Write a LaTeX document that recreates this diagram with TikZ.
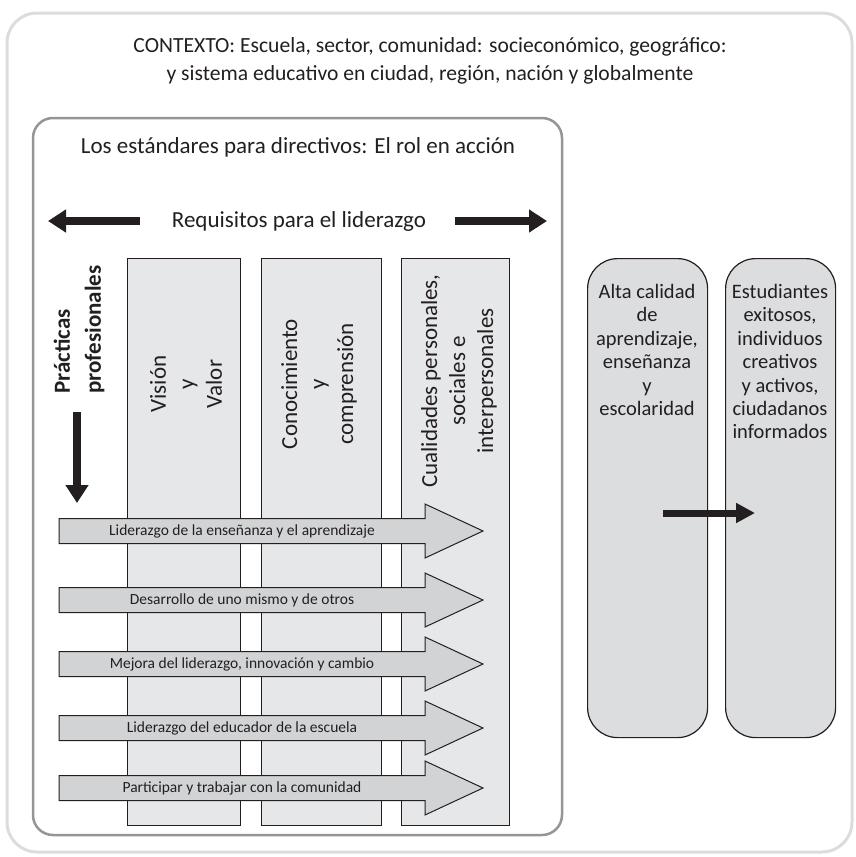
\documentclass[tikz,border=0pt]{standalone}
\usepackage{fontspec}
\setmainfont{Carlito}
\usetikzlibrary{arrows.meta}

\definecolor{ink}{HTML}{231F20}
\definecolor{framegray}{HTML}{DCDCDC}
\definecolor{boxgray}{HTML}{939598}
\definecolor{colfill}{HTML}{E6E7E8}
\definecolor{arrowfill}{HTML}{D1D3D4}
\definecolor{outfill}{HTML}{DCDDDF}

\tikzset{
  outerframe/.style={draw=framegray, line width=3pt, rounded corners=30pt},
  stdframe/.style={draw=boxgray, line width=2.5pt, rounded corners=20pt},
  column/.style={draw=ink, line width=1pt, fill=colfill, anchor=north west, inner sep=0pt},
  practice/.style={draw=ink, line width=1pt, fill=arrowfill},
  outcome/.style={draw=ink, line width=1.2pt, fill=outfill, rounded corners=30pt, anchor=north west, inner sep=0pt},
  bigtext/.style={text=ink, font=\fontsize{23}{28}\selectfont, inner sep=0pt},
  coltext/.style={text=ink, font=\fontsize{23}{28}\selectfont, rotate=90, align=center, inner sep=0pt},
  practext/.style={text=ink, font=\fontsize{15.5}{18}\selectfont, inner sep=0pt},
  outtext/.style={text=ink, font=\fontsize{20.5}{23.4}\selectfont, align=center, anchor=north, inner sep=0pt},
  fatarrow/.style={draw=ink, line width=8pt, -{Triangle[width=22pt,length=18pt]}},
  slimarrow/.style={draw=ink, line width=7pt, -{Triangle[width=19pt,length=19pt]}}
}

\begin{document}
\begin{tikzpicture}[x=1pt, y=-1pt]
  \useasboundingbox (0,0) rectangle (855,857);

  % outer context frame
  \draw[outerframe] (7,13) rectangle (852,852);
  \node[text=ink, font=\fontsize{21.6}{28}\selectfont, align=center, inner sep=0pt] (ctx) at (430,61)
    {CONTEXTO: Escuela, sector, comunidad: socieconómico, geográfico:\\
     y sistema educativo en ciudad, región, nación y globalmente};

  % standards frame
  \draw[stdframe] (33,118) rectangle (562,835);
  \node[bigtext, anchor=base] (title) at (298,153) {Los estándares para directivos: El rol en acción};

  % leadership requirements
  \node[bigtext, anchor=base] (req) at (299,227) {Requisitos para el liderazgo};
  \coordinate (reqL) at (48,221);
  \coordinate (reqR) at (547,221);
  \draw[fatarrow] (req.west |- 0,221) ++(-32,0) -- (reqL);
  \draw[fatarrow] (req.east |- 0,221) ++(29,0) -- (reqR);

  % requirement columns
  \node[column, minimum width=113pt, minimum height=567pt] (c1) at (127,258) {};
  \node[column, minimum width=120pt, minimum height=567pt] (c2) at (261,258) {};
  \node[column, minimum width=108pt, minimum height=567pt] (c3) at (401,258) {};
  \node[coltext] (t1) at (186,384) {Visión\\y\\Valor};
  \node[coltext] (t2) at (319,384) {Conocimiento\\y\\comprensión};
  \node[coltext] (t3) at (459,381) {Cualidades personales,\\sociales e\\interpersonales};

  % professional practices
  \node[text=ink, font=\bfseries\fontsize{23}{31}\selectfont, rotate=90, align=left, anchor=west, inner sep=0pt]
    (prac) at (79,394) {Prácticas\\profesionales};
  \coordinate (pracEnd) at (77,503);
  \draw[fatarrow] (77,412) -- (pracEnd);

  \foreach \yy/\txt [count=\i] in {
      531/{Liderazgo de la enseñanza y el aprendizaje},
      600/{Desarrollo de uno mismo y de otros},
      664/{Mejora del liderazgo, innovación y cambio},
      728/{Liderazgo del educador de la escuela},
      788/{Participar y trabajar con la comunidad}} {
    \draw[practice] (59,\yy-12.5) -- (425,\yy-12.5) -- (425,\yy-27) -- (483,\yy)
      -- (425,\yy+27) -- (425,\yy+12.5) -- (59,\yy+12.5) -- cycle;
    \node[practext] (p\i) at (242,\yy) {\txt};
  }

  % outcomes
  \node[outcome, minimum width=120pt, minimum height=479pt] (o1) at (587,258) {};
  \node[outcome, minimum width=110pt, minimum height=479pt] (o2) at (725,258) {};
  \node[outtext] (ot1) at (647,284) {Alta calidad\\de\\aprendizaje,\\enseñanza\\y\\escolaridad};
  \node[outtext] (ot2) at (780,284) {Estudiantes\\exitosos,\\individuos\\creativos\\y activos,\\ciudadanos\\informados};
  \coordinate (oStart) at (663,513);
  \coordinate (oEnd) at (755,513);
  \draw[slimarrow] (oStart) -- (oEnd);
\end{tikzpicture}
\end{document}
